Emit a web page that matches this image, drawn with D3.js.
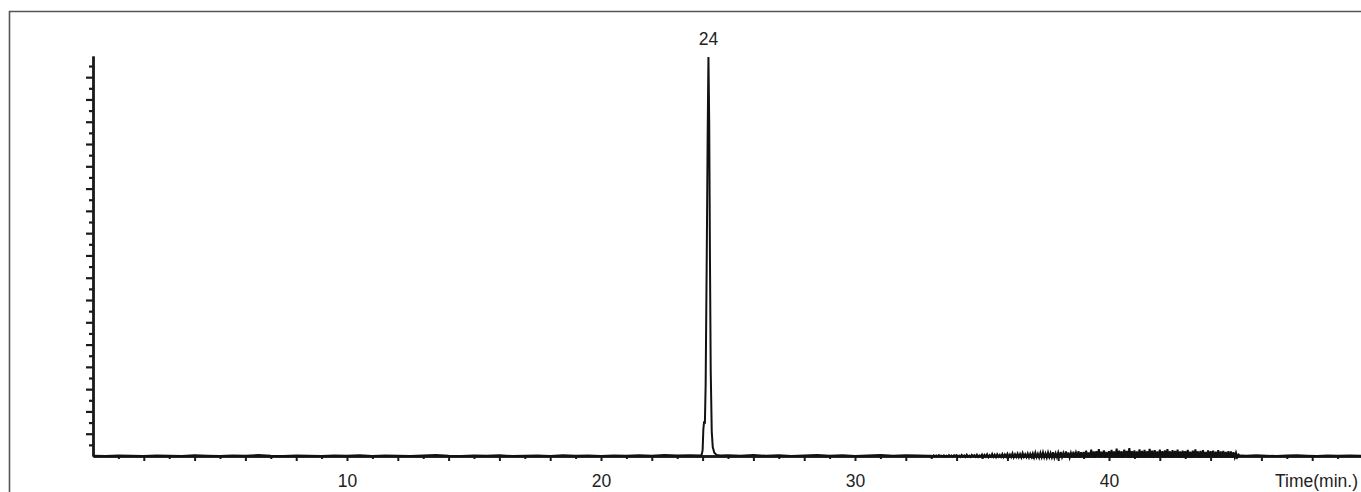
<!DOCTYPE html>
<html>
<head>
<meta charset="utf-8">
<script src="https://cdn.jsdelivr.net/npm/d3@7"></script>
<style>
  html, body { margin: 0; padding: 0; background: #fff; }
  svg { display: block; }
  text { font-family: "Liberation Sans", Arial, Helvetica, sans-serif; fill: #222; }
</style>
</head>
<body>
<svg id="chart" width="1361" height="492"></svg>
<script>
// ---------------- DATA ----------------
// retention time (min), detector response (arbitrary units)
const baselinePre = [
  [0.0,0.01],[0.5,0.00],[1.0,0.02],[1.5,0.01],[2.0,0.00],[2.5,0.02],[3.0,0.01],[3.5,0.00],
  [4.0,0.03],[4.5,0.01],[5.0,0.00],[5.5,0.02],[6.0,0.01],[6.5,0.04],[7.0,0.01],[7.5,0.00],
  [8.0,0.02],[8.5,0.01],[9.0,0.00],[9.5,0.02],[10.0,0.01],[10.5,0.03],[11.0,0.00],[11.5,0.02],
  [12.0,0.01],[12.5,0.00],[13.0,0.02],[13.5,0.04],[14.0,0.01],[14.5,0.00],[15.0,0.02],[15.5,0.01],
  [16.0,0.03],[16.5,0.00],[17.0,0.01],[17.5,0.02],[18.0,0.00],[18.5,0.03],[19.0,0.01],[19.5,0.02],
  [20.0,0.00],[20.5,0.02],[21.0,0.01],[21.5,0.03],[22.0,0.01],[22.5,0.04],[23.0,0.02],[23.5,0.03],
  [23.9,0.02]
];
const peakPoints = [
  [23.96,0.05],[24.00,0.25],[24.03,1.2],[24.06,1.55],[24.09,1.45],[24.12,3.2],
  [24.16,8.5],[24.20,14.5],[24.23,17.9],[24.26,15.0],[24.29,8.8],[24.32,3.8],
  [24.36,1.1],[24.40,0.4],[24.46,0.15],[24.55,0.05],[24.70,0.02]
];
const baselineMid = [
  [25.0,0.03],[25.5,0.01],[26.0,0.04],[26.5,0.01],[27.0,0.03],[27.5,0.00],[28.0,0.02],
  [28.5,0.04],[29.0,0.01],[29.5,0.03],[30.0,0.00],[30.5,0.02],[31.0,0.04],[31.5,0.01],
  [32.0,0.03],[32.5,0.02],[32.9,0.01]
];
const noiseStart = 33.0;   // sampling start (min)
const noiseStep = 0.05;    // sampling interval (min)
const noiseValues = [
  0.01,-0.02,0.03,-0.01,0.02,-0.03,0.04,0.00,0.02,-0.02,0.03,-0.03,0.01,-0.02,0.04,-0.01,0.02,-0.03,0.03,0.00,
  0.04,-0.03,0.02,-0.04,0.05,-0.02,0.03,-0.04,0.06,-0.03,0.02,-0.04,0.05,-0.01,0.04,-0.03,0.06,-0.04,0.03,-0.02,
  0.07,-0.04,0.05,-0.03,0.08,-0.05,0.04,-0.03,0.09,-0.04,0.06,-0.05,0.08,-0.03,0.05,-0.04,0.09,-0.05,0.07,-0.03,
  0.10,-0.05,0.07,-0.04,0.12,-0.06,0.08,-0.04,0.11,-0.05,0.09,-0.06,0.13,-0.04,0.08,-0.05,0.11,-0.06,0.10,-0.04,
  0.12,-0.06,0.15,-0.05,0.10,-0.07,0.14,-0.05,0.16,-0.06,0.11,-0.07,0.15,-0.05,0.13,-0.06,0.17,-0.07,0.12,-0.05,
  0.15,-0.07,0.18,-0.05,0.13,-0.08,0.20,-0.06,0.16,-0.07,0.14,-0.06,0.19,-0.08,0.15,-0.05,0.21,-0.07,0.17,-0.06,
  0.18,-0.08,0.24,-0.06,0.16,-0.07,0.28,-0.06,0.20,-0.08,0.22,-0.05,0.31,-0.07,0.19,-0.06,0.25,-0.08,0.18,-0.06,
  0.22,-0.07,0.27,-0.06,0.20,-0.08,0.33,-0.06,0.24,-0.07,0.21,-0.08,0.29,-0.06,0.23,-0.07,0.35,-0.08,0.22,-0.06,
  0.25,-0.07,0.20,-0.08,0.30,-0.06,0.23,-0.07,0.27,-0.08,0.21,-0.06,0.32,-0.07,0.24,-0.08,0.26,-0.06,0.20,-0.07,
  0.28,-0.06,0.22,-0.08,0.25,-0.07,0.31,-0.06,0.21,-0.08,0.26,-0.07,0.23,-0.06,0.29,-0.08,0.20,-0.07,0.24,-0.06,
  0.22,-0.07,0.27,-0.06,0.19,-0.08,0.24,-0.07,0.30,-0.06,0.21,-0.08,0.23,-0.07,0.26,-0.06,0.18,-0.08,0.25,-0.07,
  0.21,-0.06,0.24,-0.08,0.19,-0.07,0.26,-0.06,0.20,-0.08,0.23,-0.07,0.18,-0.06,0.22,-0.08,0.20,-0.07,0.17,-0.06,
  0.15,-0.05,0.06,0.01,0.02
];
const baselinePost = [
  [45.4,0.01],[45.8,0.03],[46.2,0.01],[46.6,0.00],[47.0,0.02],[47.4,0.03],[47.8,0.01],
  [48.2,0.00],[48.6,0.02],[49.0,0.01],[49.5,0.02],[50.0,0.01]
];
const peakLabels = [{ time: 24.23, value: 17.9, label: "24" }];
const xTickLabels = [10, 20, 30, 40];
const xAxisTitle = "Time(min.)";

// ---------------- CHART ----------------
const svg = d3.select("#chart");
const x = d3.scaleLinear().domain([0, 50]).range([93, 1363]);
const y = d3.scaleLinear().domain([0, 17.95]).range([456, 56]);
const FS = "17.5px";

// frame (top and left border)
svg.append("path")
  .attr("d", "M9.5,492V11.5H1361")
  .attr("fill", "none").attr("stroke", "#555").attr("stroke-width", 1.6);

// assemble trace
const noisePoints = noiseValues.map((v, i) => [noiseStart + i * noiseStep, v]);
const trace = [].concat(baselinePre, peakPoints, baselineMid, noisePoints, baselinePost);

// X axis: minor (odd), major (even), labelled
const xMinor = d3.range(1, 50, 2);
const xMajor = d3.range(2, 50, 2);
const gx = svg.append("g").attr("transform", `translate(0,${y(0)})`);
gx.append("g").call(d3.axisBottom(x).tickValues(xMinor).tickSize(3).tickSizeOuter(0).tickFormat(""));
gx.append("g").call(d3.axisBottom(x).tickValues(xMajor).tickSize(5).tickSizeOuter(0)
  .tickPadding(13.5).tickFormat(d => xTickLabels.includes(d) ? d : ""));
gx.selectAll("path.domain").attr("stroke", "#1a1a1a").attr("stroke-width", 2.4);
gx.selectAll(".tick line").attr("stroke", "#1a1a1a").attr("stroke-width", 2);
gx.selectAll(".tick text").style("font-size", FS).attr("fill", "#222");

svg.append("text")
  .attr("x", 1358).attr("y", 487)
  .attr("text-anchor", "end")
  .style("font-size", FS)
  .text(xAxisTitle);

// Y axis: minor (half units), major (units)
const yMinor = d3.range(0.5, 18, 1);
const yMajor = d3.range(1, 18, 1);
const gy = svg.append("g").attr("transform", `translate(${x(0)},0)`);
gy.append("g").call(d3.axisLeft(y).tickValues(yMinor).tickSize(4).tickSizeOuter(0).tickFormat(""));
gy.append("g").call(d3.axisLeft(y).tickValues(yMajor).tickSize(7).tickSizeOuter(0).tickFormat(""));
gy.selectAll("path.domain").attr("stroke", "#1a1a1a").attr("stroke-width", 2.4);
gy.selectAll(".tick line").attr("stroke", "#1a1a1a").attr("stroke-width", 2.2);

// trace line
const line = d3.line().x(d => x(d[0])).y(d => y(d[1]));
svg.append("path")
  .datum(trace)
  .attr("d", line)
  .attr("fill", "none")
  .attr("stroke", "#111")
  .attr("stroke-width", 2)
  .attr("stroke-linejoin", "miter");

// peak labels
svg.selectAll("text.peak")
  .data(peakLabels).enter().append("text")
  .attr("class", "peak")
  .attr("x", d => x(d.time))
  .attr("y", d => y(d.value) - 12)
  .attr("text-anchor", "middle")
  .style("font-size", FS)
  .text(d => d.label);
</script>
</body>
</html>
